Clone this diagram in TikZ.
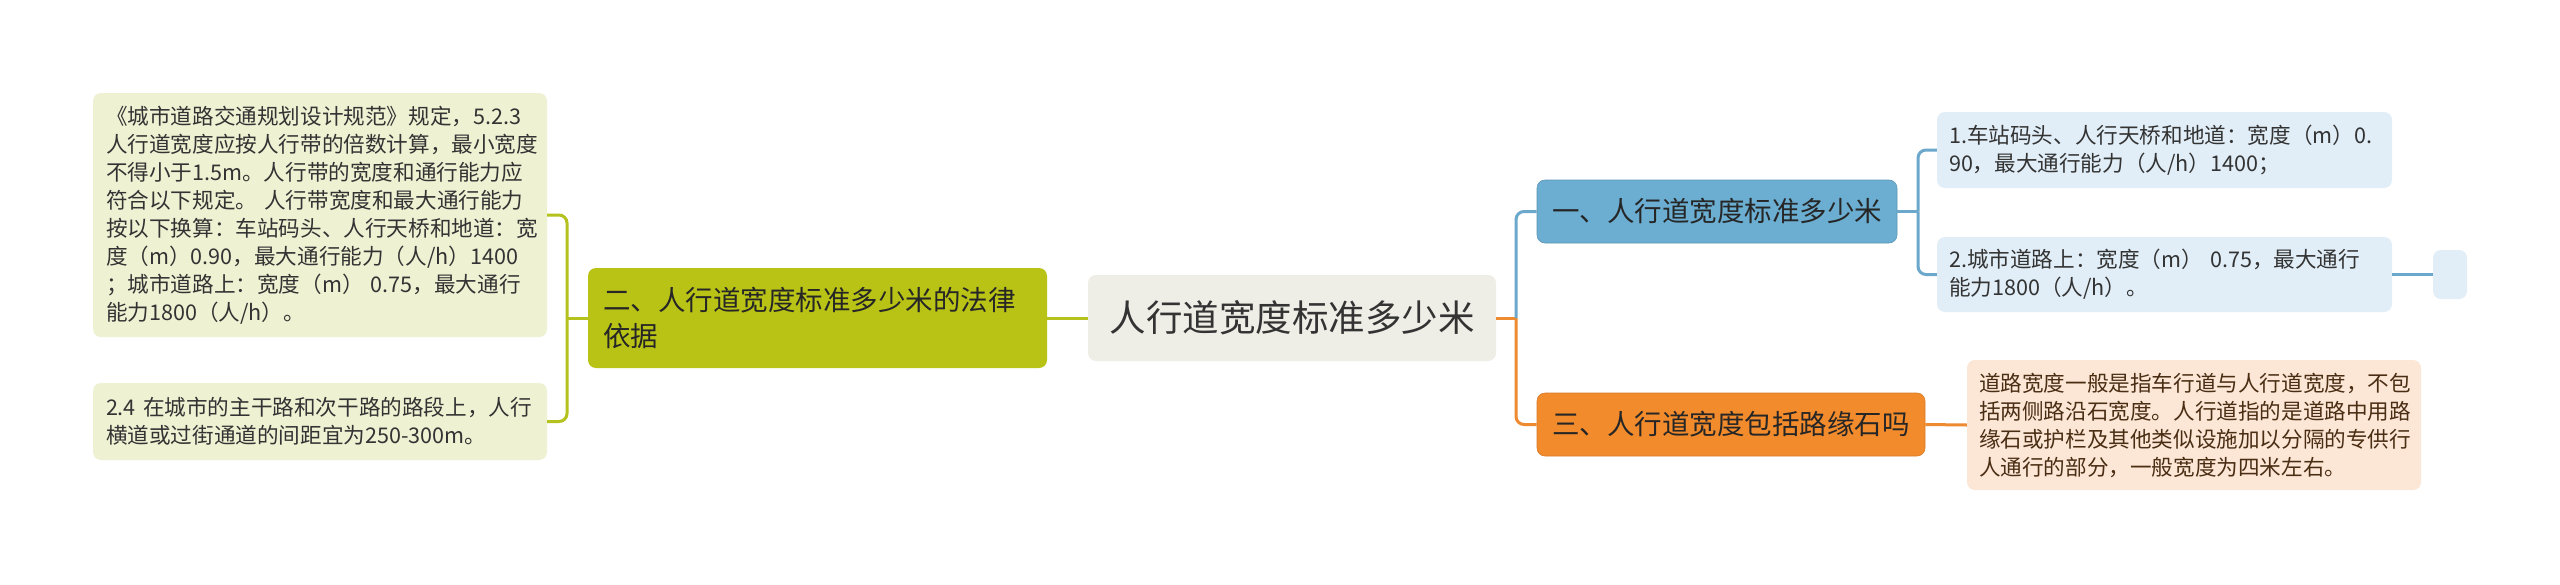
\documentclass[tikz,border=0pt]{standalone}
\usepackage{fontspec}
\setmainfont{Noto Sans CJK SC}
\definecolor{cfill}{HTML}{EFEEE6}
\definecolor{olfill}{HTML}{B9C316}
\definecolor{olleaf}{HTML}{EFF1D3}
\definecolor{olline}{HTML}{B5C21D}
\definecolor{blfill}{HTML}{6BAED1}
\definecolor{blleaf}{HTML}{E1EEF7}
\definecolor{blline}{HTML}{6BA8CB}
\definecolor{orfill}{HTML}{F28B2C}
\definecolor{orleaf}{HTML}{FCE6D6}
\definecolor{orline}{HTML}{EE8A30}
\definecolor{txt}{HTML}{333333}
\definecolor{brtxt}{HTML}{4A2E14}
\begin{document}
\begin{tikzpicture}[x=1pt,y=-1pt,
  box/.style={rectangle, rounded corners=8pt, inner ysep=0pt, anchor=center},
  leaffont/.style={font=\fontsize{21.6}{28}\selectfont},
  branchfont/.style={font=\fontsize{27.5}{36}\selectfont},
  conn/.style={line width=3pt, rounded corners=8pt},
]
\useasboundingbox (0,0) rectangle (2560,584);
\fill[white] (0,0) rectangle (2560,584);

% central
\node[box, fill=cfill, text=txt, minimum width=408pt, minimum height=86pt, inner xsep=0pt,
  font=\fontsize{36.5}{44}\selectfont] (C) at (1292,318) {人行道宽度标准多少米};

% left branch
\node[box, fill=olfill, text=black!85, branchfont, minimum height=100pt, inner xsep=15pt,
  text width=429pt, align=left] (B2) at (817.5,318)
  {\mbox{二、人行道宽度标准多少米的法律}\\依据};
\node[box, fill=olleaf, text=txt, leaffont, minimum height=244pt, inner xsep=13pt,
  text width=428pt, align=left] (L1) at (320,215)
  {\mbox{《城市道路交通规划设计规范》规定，5.2.3}\\
   \mbox{人行道宽度应按人行带的倍数计算，最小宽度}\\
   \mbox{不得小于1.5m。人行带的宽度和通行能力应}\\
   \mbox{符合以下规定。 人行带宽度和最大通行能力}\\
   \mbox{按以下换算：车站码头、人行天桥和地道：宽}\\
   \mbox{度（m）0.90，最大通行能力（人/h）1400}\\
   \mbox{；城市道路上：宽度（m） 0.75，最大通行}\\
   \mbox{能力1800（人/h）。}};
\node[box, fill=olleaf, text=txt, leaffont, minimum height=77pt, inner xsep=13pt,
  text width=428pt, align=left] (L2) at (320,421.5)
  {\mbox{2.4 在城市的主干路和次干路的路段上，人行}\\
   \mbox{横道或过街通道的间距宜为250-300m。}};

% right branch 1
\node[box, fill=blfill, draw=blline!90!black, line width=0.6pt, text=black!85, branchfont,
  minimum width=360pt, minimum height=63pt, inner xsep=0pt] (B1) at (1717,211.5)
  {一、人行道宽度标准多少米};
\node[box, fill=blleaf, text=txt, leaffont, minimum height=76pt, inner xsep=12pt,
  text width=431pt, align=left] (R1a) at (2164.5,150)
  {\mbox{1.车站码头、人行天桥和地道：宽度（m）0.}\\
   \mbox{90，最大通行能力（人/h）1400；}};
\node[box, fill=blleaf, text=txt, leaffont, minimum height=75pt, inner xsep=12pt,
  text width=431pt, align=left] (R1b) at (2164.5,274.5)
  {\mbox{2.城市道路上：宽度（m） 0.75，最大通行}\\
   \mbox{能力1800（人/h）。}};
\node[box, fill=blleaf, minimum width=34pt, minimum height=49pt, inner xsep=0pt] (E) at (2450,274.5) {};

% right branch 3
\node[box, fill=orfill, draw=orline!90!black, line width=0.6pt, text=black!85, branchfont,
  minimum width=388pt, minimum height=63pt, inner xsep=0pt] (B3) at (1731,424.5)
  {三、人行道宽度包括路缘石吗};
\node[box, fill=orleaf, text=brtxt, leaffont, minimum height=130pt, inner xsep=12pt,
  text width=430pt, align=left] (R3) at (2194,425)
  {\mbox{道路宽度一般是指车行道与人行道宽度，不包}\\
   \mbox{括两侧路沿石宽度。人行道指的是道路中用路}\\
   \mbox{缘石或护栏及其他类似设施加以分隔的专供行}\\
   \mbox{人通行的部分，一般宽度为四米左右。}};

% junction coordinates
\coordinate (lj) at (567,318);
\coordinate (cj) at (1516,318);
\coordinate (bj) at (1918,211.5);

% connectors
\draw[conn, olline] (C.west) -- (B2.east);
\draw[conn, olline] (B2.west) -- (lj);
\draw[conn, olline] (lj) |- (L1.east);
\draw[conn, olline] (lj) |- (L2.east);

\draw[conn, orline] (C.east) -- (cj);
\draw[conn, orline] (cj) |- (B3.west);
\draw[conn, blline] (cj) |- (B1.west);

\draw[conn, blline] (B1.east) -- (bj);
\draw[conn, blline] (bj) |- (R1a.west);
\draw[conn, blline] (bj) |- (R1b.west);
\draw[conn, blline] (R1b.east) -- (E.west);

\draw[conn, orline] (B3.east) -- (R3.west);
\end{tikzpicture}
\end{document}
